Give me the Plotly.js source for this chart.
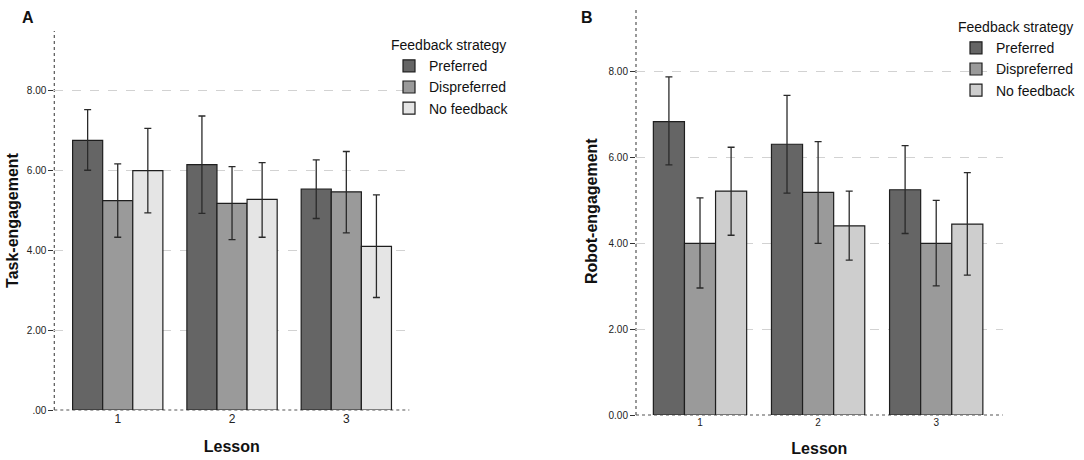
<!DOCTYPE html>
<html>
<head>
<meta charset="utf-8">
<script src="https://cdn.plot.ly/plotly-3.0.1.min.js"></script>
<style>
  html, body { margin: 0; padding: 0; background: #fff; }
  #chart { width: 1084px; height: 460px; }
</style>
</head>
<body>
<div id="chart"></div>
<script>
// lessons on the x axis, one bar per feedback strategy
const lessons = ['1', '2', '3'];
const strategies = ['Preferred', 'Dispreferred', 'No feedback'];

// panel A: task-engagement, rows follow "strategies"
const taskMean  = [[6.76, 6.15, 5.54], [5.25, 5.18, 5.47], [6.00, 5.28, 4.10]];
const taskUpper = [[7.53, 7.37, 6.27], [6.17, 6.10, 6.48], [7.06, 6.20, 5.39]];
const taskLower = [[6.01, 4.93, 4.80], [4.33, 4.27, 4.44], [4.94, 4.33, 2.82]];

// panel B: robot-engagement
const robotMean  = [[6.84, 6.31, 5.25], [4.00, 5.19, 4.00], [5.22, 4.41, 4.45]];
const robotUpper = [[7.88, 7.45, 6.28], [5.06, 6.37, 5.00], [6.24, 5.22, 5.65]];
const robotLower = [[5.83, 5.17, 4.23], [2.96, 4.00, 3.01], [4.19, 3.61, 3.26]];

const yTicks = [0, 2, 4, 6, 8];
const taskTickText = ['.00', '2.00', '4.00', '6.00', '8.00'];
const robotTickText = ['0.00', '2.00', '4.00', '6.00', '8.00'];

const colorsA = ['#656565', '#9a9a9a', '#e5e5e5'];
const colorsB = ['#656565', '#9a9a9a', '#cecece'];

const FONT = 'Liberation Sans, Arial, sans-serif';

function makeTraces(means, upper, lower, colors, xa, ya, legendId) {
    return strategies.map(function (name, i) {
        return {
            type: 'bar',
            name: name,
            x: lessons,
            y: means[i],
            xaxis: xa,
            yaxis: ya,
            legend: legendId,
            marker: {color: colors[i], line: {color: '#1e1e1e', width: 1.2}},
            error_y: {
                type: 'data',
                symmetric: false,
                array: upper[i].map((u, k) => u - means[i][k]),
                arrayminus: means[i].map((m, k) => m - lower[i][k]),
                color: '#2a2a2a',
                thickness: 1.3,
                width: 3.5
            },
            hoverinfo: 'skip'
        };
    });
}

let data = makeTraces(taskMean, taskUpper, taskLower, colorsA, 'x', 'y', 'legend')
    .concat(makeTraces(robotMean, robotUpper, robotLower, colorsB, 'x2', 'y2', 'legend2'));

const W = 1084, H = 460;

function yAxis(domain, tickText, anchor, title, standoff) {
    return {
        domain: domain,
        anchor: anchor,
        range: [0, 9.5],
        tickvals: yTicks,
        ticktext: tickText,
        ticks: 'outside',
        ticklen: 5,
        tickwidth: 1,
        tickcolor: '#333',
        tickfont: {family: FONT, size: 10, color: '#222'},
        showgrid: true,
        gridcolor: '#d2d2d2',
        griddash: 'dash',
        gridwidth: 1,
        zeroline: false,
        showline: false,
        title: {text: title, standoff: standoff,
                font: {family: FONT, size: 16, color: '#111', weight: 'bold'}}
    };
}

function xAxis(domain, range, anchor, tickSize) {
    return {
        domain: domain,
        anchor: anchor,
        type: 'category',
        range: range,
        ticks: '',
        tickfont: {family: FONT, size: tickSize, color: '#222'},
        showgrid: false,
        zeroline: false,
        showline: false,
        title: {text: 'Lesson', standoff: 15,
                font: {family: FONT, size: 16, color: '#111', weight: 'bold'}}
    };
}

// dotted axis lines like the SPSS output
function axisLines(xref, yref) {
    const line = {color: '#555', width: 1.2, dash: 'dot'};
    return [
        {type: 'line', xref: xref + ' domain', yref: yref + ' domain', x0: 0, x1: 0, y0: 0, y1: 1, line: line, layer: 'below'},
        {type: 'line', xref: xref + ' domain', yref: yref + ' domain', x0: 0, x1: 1, y0: 0, y1: 0, line: line, layer: 'below'}
    ];
}

function legendBox(x, y) {
    return {
        x: x, y: y, xanchor: 'left', yanchor: 'top',
        bgcolor: 'rgba(0,0,0,0)',
        borderwidth: 0,
        font: {family: FONT, size: 14, color: '#111'},
        title: {text: 'Feedback strategy', side: 'top',
                font: {family: FONT, size: 14, color: '#111'}},
        itemwidth: 30,
        tracegroupgap: 0
    };
}

let layout = {
    width: W,
    height: H,
    margin: {l: 0, r: 0, t: 0, b: 0},
    paper_bgcolor: '#fff',
    plot_bgcolor: '#fff',
    barmode: 'group',
    bargap: 0.21,
    bargroupgap: 0,
    showlegend: true,
    xaxis: xAxis([54.3 / W, 409.3 / W], [-0.555, 2.551], 'y', 12),
    yaxis: yAxis([1 - 410 / H, 1 - 31 / H], taskTickText, 'x', 'Task-engagement', 4),
    xaxis2: xAxis([636 / W, 1002.7 / W], [-0.542, 2.563], 'y2', 10),
    yaxis2: yAxis([1 - 415 / H, 1 - 7.4 / H], robotTickText, 'x2', 'Robot-engagement', 6),
    legend: legendBox(389 / W, 1 - 32 / H),
    legend2: legendBox(956 / W, 1 - 14 / H),
    shapes: axisLines('x', 'y').concat(axisLines('x2', 'y2')),
    annotations: [
        {text: '<b>A</b>', xref: 'paper', yref: 'paper', x: 28 / W, y: 1 - 17 / H,
         xanchor: 'center', yanchor: 'middle',
         showarrow: false, font: {family: FONT, size: 16, color: '#111'}},
        {text: '<b>B</b>', xref: 'paper', yref: 'paper', x: 587 / W, y: 1 - 17 / H,
         xanchor: 'center', yanchor: 'middle',
         showarrow: false, font: {family: FONT, size: 16, color: '#111'}}
    ]
};

Plotly.newPlot('chart', data, layout, {displayModeBar: false, staticPlot: true});
</script>
</body>
</html>
